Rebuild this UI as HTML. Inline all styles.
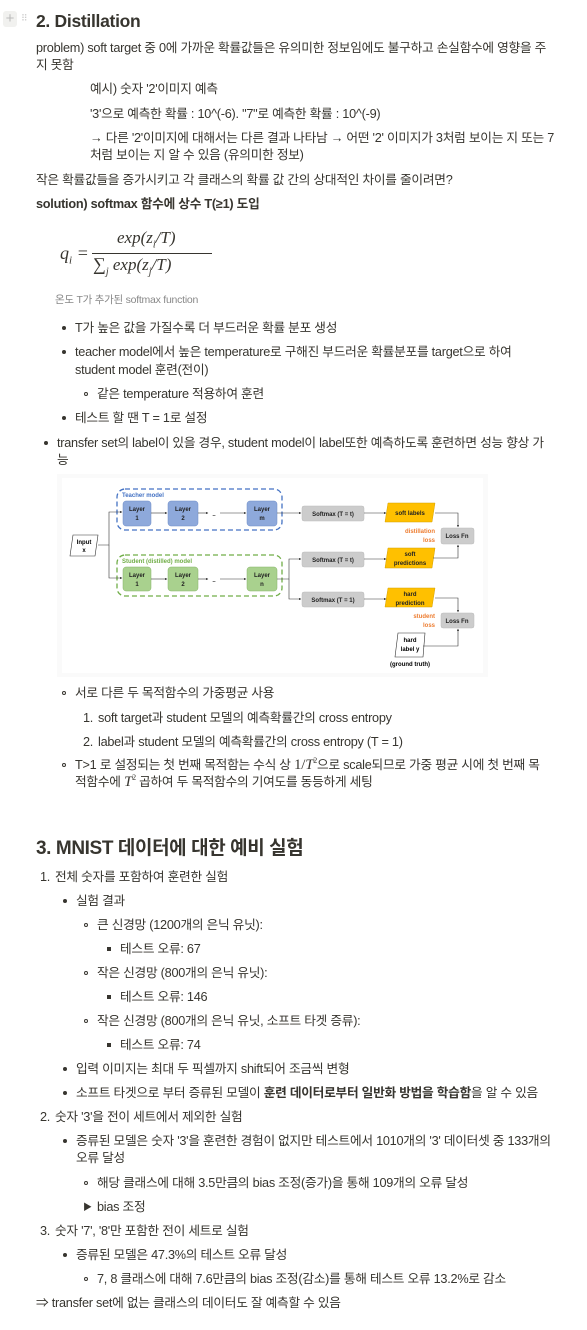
<!DOCTYPE html>
<html><head><meta charset="utf-8">
<style>
html,body{margin:0;padding:0;background:#fff;}
body{width:587px;height:1330px;position:relative;overflow:hidden;font-family:"Liberation Sans","Noto Sans CJK KR",sans-serif;color:#37352f;}
.l{position:absolute;white-space:nowrap;font-size:12.7px;line-height:16px;letter-spacing:-0.25px;}
.b{font-weight:bold;}
.dot{position:absolute;width:4px;height:4px;border-radius:50%;background:#37352f;}
.cir{position:absolute;width:4px;height:4px;border-radius:50%;border:1px solid #37352f;box-sizing:border-box;}
.sq{position:absolute;width:4px;height:4px;background:#37352f;}
.m{font-family:"Liberation Serif",serif;font-style:italic;}
.ms{font-family:"Liberation Serif",serif;line-height:0;}
</style></head><body>
<div style="position:absolute;left:3px;top:11px;width:14px;height:16px;background:#f1f1ef;border-radius:3px;color:#bbb;font-size:15px;line-height:16px;text-align:center;">+</div>
<div style="position:absolute;left:21px;top:14px;color:#ccc;font-size:9px;line-height:9px;">⠿</div>
<div class="l" style="left:36px;top:9px;font-size:17.5px;line-height:24px;font-weight:bold;letter-spacing:-0.3px;">2. Distillation</div>

<div class="l" style="left:36px;top:40px;">problem) soft target 중 0에 가까운 확률값들은 유의미한 정보임에도 불구하고 손실함수에 영향을 주</div>
<div class="l" style="left:36px;top:57px;">지 못함</div>
<div class="l" style="left:90px;top:81px;">예시) 숫자 '2'이미지 예측</div>
<div class="l" style="left:90px;top:106px;">'3'으로 예측한 확률 : 10^(-6).  "7"로 예측한 확률 : 10^(-9)</div>
<div class="l" style="left:90px;top:130px;">→ 다른 '2'이미지에 대해서는 다른 결과 나타남 → 어떤 '2' 이미지가 3처럼 보이는 지 또는 7</div>
<div class="l" style="left:90px;top:147px;">처럼 보이는 지 알 수 있음 (유의미한 정보)</div>
<div class="l" style="left:36px;top:172px;">작은 확률값들을 증가시키고 각 클래스의 확률 값 간의 상대적인 차이를 줄이려면?</div>
<div class="l b" style="left:36px;top:196px;">solution) softmax 함수에 상수 T(≥1) 도입</div>

<div class="m" style="position:absolute;left:60px;top:243px;font-size:18px;">q<sub style="font-size:11px">i</sub> =</div>
<div class="m" style="position:absolute;left:117px;top:228px;font-size:17px;">exp(z<sub style="font-size:10px">i</sub>/T)</div>
<div style="position:absolute;left:92px;top:253px;width:120px;border-top:1px solid #37352f;"></div>
<div class="m" style="position:absolute;left:93px;top:254px;font-size:17px;"><span style="font-style:normal;font-size:18px">∑</span><sub style="font-size:10px">j</sub> exp(z<sub style="font-size:10px">j</sub>/T)</div>

<div class="l" style="left:55px;top:292px;font-size:10.5px;color:#888;">온도 T가 추가된 softmax function</div>

<div class="dot" style="left:62px;top:326px"></div><div class="l" style="left:75px;top:320px;">T가 높은 값을 가질수록 더 부드러운 확률 분포 생성</div>
<div class="dot" style="left:62px;top:350px"></div><div class="l" style="left:75px;top:344px;">teacher model에서 높은 temperature로 구해진 부드러운 확률분포를 target으로 하여</div>
<div class="l" style="left:75px;top:362px;">student model 훈련(전이)</div>
<div class="cir" style="left:84px;top:392px"></div><div class="l" style="left:97px;top:386px;">같은 temperature 적용하여 훈련</div>
<div class="dot" style="left:62px;top:416px"></div><div class="l" style="left:75px;top:410px;">테스트 할 땐 T = 1로 설정</div>
<div class="dot" style="left:44px;top:441px"></div><div class="l" style="left:57px;top:435px;">transfer set의 label이 있을 경우, student model이  label또한 예측하도록 훈련하면 성능 향상 가</div>
<div class="l" style="left:57px;top:452px;">능</div>

<svg style="position:absolute;left:0;top:0" width="587" height="700" font-family="Liberation Sans, sans-serif" font-weight="bold">
<defs><marker id="a" markerWidth="4" markerHeight="4" refX="3.5" refY="2" orient="auto"><path d="M0,0L4,2L0,4z" fill="#333"/></marker></defs>
<rect x="57" y="474" width="431" height="203" fill="#fafafa"/>
<rect x="62" y="478" width="421" height="195" fill="#fff"/>
<rect x="117" y="489" width="165" height="41" rx="8" fill="none" stroke="#4472c4" stroke-width="1.3" stroke-dasharray="5,3"/>
<text x="122" y="497" font-size="6" fill="#4472c4">Teacher model</text>
<rect x="117" y="555" width="165" height="41" rx="8" fill="none" stroke="#70ad47" stroke-width="1.3" stroke-dasharray="5,3"/>
<text x="122" y="563" font-size="6" fill="#70ad47">Student (distilled) model</text>
<g fill="#8ea9db" stroke="#6d8bc7" stroke-width="0.5">
<rect x="123" y="501" width="28" height="25" rx="3"/><rect x="168" y="501" width="30" height="25" rx="3"/><rect x="247" y="501" width="30" height="25" rx="3"/></g>
<g fill="#a9d18e" stroke="#84b366" stroke-width="0.5">
<rect x="123" y="567" width="28" height="24" rx="3"/><rect x="168" y="567" width="30" height="24" rx="3"/><rect x="247" y="567" width="30" height="24" rx="3"/></g>
<g font-size="6" fill="#222" text-anchor="middle">
<text x="137" y="511">Layer</text><text x="137" y="520">1</text>
<text x="183" y="511">Layer</text><text x="183" y="520">2</text>
<text x="262" y="511">Layer</text><text x="262" y="520">m</text>
<text x="137" y="577">Layer</text><text x="137" y="586">1</text>
<text x="183" y="577">Layer</text><text x="183" y="586">2</text>
<text x="262" y="577">Layer</text><text x="262" y="586">n</text>
<text x="214" y="516">..</text><text x="214" y="582">..</text>
</g>
<polygon points="73,535 98,535 95,556 70,556" fill="#fff" stroke="#333" stroke-width="0.6"/>
<text x="84" y="544" font-size="6" text-anchor="middle">Input</text><text x="84" y="552" font-size="6" text-anchor="middle">x</text>
<g fill="#ccc" stroke="#bbb" stroke-width="0.5">
<rect x="302" y="506" width="62" height="15" rx="2"/><rect x="302" y="552" width="62" height="15" rx="2"/><rect x="302" y="592" width="62" height="15" rx="2"/>
<rect x="441" y="528" width="33" height="16" rx="2"/><rect x="441" y="613" width="33" height="15" rx="2"/></g>
<g font-size="6" text-anchor="middle" fill="#222">
<text x="333" y="516">Softmax (T = t)</text><text x="333" y="562">Softmax (T = t)</text><text x="333" y="602">Softmax (T = 1)</text>
<text x="457" y="538">Loss Fn</text><text x="457" y="623">Loss Fn</text></g>
<g fill="#ffc000" stroke="#d4a000" stroke-width="0.5">
<polygon points="388,503 435,503 432,522 385,522"/><polygon points="388,548 435,548 432,568 385,568"/><polygon points="388,588 435,588 432,607 385,607"/></g>
<g font-size="6" text-anchor="middle" fill="#222">
<text x="410" y="515">soft labels</text><text x="410" y="556">soft</text><text x="410" y="565">predictions</text>
<text x="410" y="596">hard</text><text x="410" y="605">prediction</text></g>
<g font-size="6" text-anchor="end" fill="#ed7d31"><text x="435" y="533">distillation</text><text x="435" y="542">loss</text>
<text x="435" y="618">student</text><text x="435" y="627">loss</text></g>
<polygon points="398,633 425,633 423,657 395,657" fill="#fff" stroke="#333" stroke-width="0.6"/>
<g font-size="6" text-anchor="middle"><text x="410" y="642">hard</text><text x="410" y="651">label y</text><text x="410" y="666">(ground truth)</text></g>
<g stroke="#333" stroke-width="0.6" fill="none" marker-end="url(#a)">
<path d="M98,545 H109 V512 H122"/><path d="M109,545 V578 H122"/>
<path d="M151,513 H167"/><path d="M198,513 H208"/><path d="M220,513 H246"/>
<path d="M151,579 H167"/><path d="M198,579 H208"/><path d="M220,579 H246"/>
<path d="M277,513 H301"/><path d="M277,579 H289 V559 H301"/><path d="M289,579 V599 H301"/>
<path d="M364,513 H386"/><path d="M364,559 H386"/><path d="M364,599 H386"/>
<path d="M435,513 H458 V527"/><path d="M433,558 H458 V545"/>
<path d="M435,598 H458 V612"/><path d="M423,646 H458 V629"/>
</g>
</svg>

<div class="cir" style="left:62px;top:691px"></div><div class="l" style="left:75px;top:685px;">서로 다른 두 목적함수의 가중평균 사용</div>
<div class="l" style="left:83px;top:710px;">1.</div><div class="l" style="left:98px;top:710px;">soft target과 student 모델의 예측확률간의 cross entropy</div>
<div class="l" style="left:83px;top:734px;">2.</div><div class="l" style="left:98px;top:734px;">label과 student 모델의 예측확률간의 cross entropy (T = 1)</div>
<div class="cir" style="left:62px;top:763px"></div><div class="l" style="left:75px;top:757px;">T&gt;1 로 설정되는 첫 번째 목적함는 수식 상 <span class="ms" style="font-size:15px">1/<i>T</i><sup style="font-size:8px">2</sup></span>으로 scale되므로 가중 평균 시에 첫 번째 목</div>
<div class="l" style="left:75px;top:774px;">적함수에 <span class="ms" style="font-size:15px"><i>T</i><sup style="font-size:8px">2</sup></span> 곱하여 두 목적함수의 기여도를 동등하게 세팅</div>

<div class="l" style="left:36px;top:836px;font-size:19px;line-height:26px;font-weight:bold;letter-spacing:-0.4px;">3. MNIST 데이터에 대한 예비 실험</div>
<div class="l" style="left:40px;top:869px;">1.</div><div class="l" style="left:55px;top:869px;">전체 숫자를 포함하여 훈련한 실험</div>
<div class="dot" style="left:63px;top:899px"></div><div class="l" style="left:76px;top:893px;">실험 결과</div>
<div class="cir" style="left:84px;top:923px"></div><div class="l" style="left:97px;top:917px;">큰 신경망 (1200개의 은닉 유닛):</div>
<div class="sq" style="left:107px;top:947px"></div><div class="l" style="left:120px;top:941px;">테스트 오류: 67</div>
<div class="cir" style="left:84px;top:971px"></div><div class="l" style="left:97px;top:965px;">작은 신경망 (800개의 은닉 유닛):</div>
<div class="sq" style="left:107px;top:995px"></div><div class="l" style="left:120px;top:989px;">테스트 오류: 146</div>
<div class="cir" style="left:84px;top:1019px"></div><div class="l" style="left:97px;top:1013px;">작은 신경망 (800개의 은닉 유닛, 소프트 타겟 증류):</div>
<div class="sq" style="left:107px;top:1043px"></div><div class="l" style="left:120px;top:1037px;">테스트 오류: 74</div>
<div class="dot" style="left:63px;top:1067px"></div><div class="l" style="left:76px;top:1061px;">입력 이미지는 최대 두 픽셀까지 shift되어 조금씩 변형</div>
<div class="dot" style="left:63px;top:1091px"></div><div class="l" style="left:76px;top:1085px;">소프트 타겟으로 부터 증류된 모델이 <b>훈련 데이터로부터 일반화 방법을 학습함</b>을 알 수 있음</div>
<div class="l" style="left:40px;top:1109px;">2.</div><div class="l" style="left:55px;top:1109px;">숫자 '3'을 전이 세트에서 제외한 실험</div>
<div class="dot" style="left:63px;top:1139px"></div><div class="l" style="left:76px;top:1133px;">증류된 모델은 숫자 '3'을 훈련한 경험이 없지만 테스트에서 1010개의 '3' 데이터셋 중 133개의</div>
<div class="l" style="left:76px;top:1150px;">오류 달성</div>
<div class="cir" style="left:84px;top:1181px"></div><div class="l" style="left:97px;top:1175px;">해당 클래스에 대해 3.5만큼의 bias 조정(증가)을 통해 109개의 오류 달성</div>
<div class="l" style="left:83px;top:1199px;font-size:9px;">▶</div><div class="l" style="left:97px;top:1199px;">bias 조정</div>
<div class="l" style="left:40px;top:1223px;">3.</div><div class="l" style="left:55px;top:1223px;">숫자 '7', '8'만 포함한 전이 세트로 실험</div>
<div class="dot" style="left:63px;top:1253px"></div><div class="l" style="left:76px;top:1247px;">증류된 모델은 47.3%의 테스트 오류 달성</div>
<div class="cir" style="left:84px;top:1277px"></div><div class="l" style="left:97px;top:1271px;">7, 8 클래스에 대해 7.6만큼의 bias 조정(감소)를 통해 테스트 오류 13.2%로 감소</div>
<div class="l" style="left:36px;top:1295px;">⇒ transfer set에 없는 클래스의 데이터도 잘 예측할 수 있음</div>
</body></html>
